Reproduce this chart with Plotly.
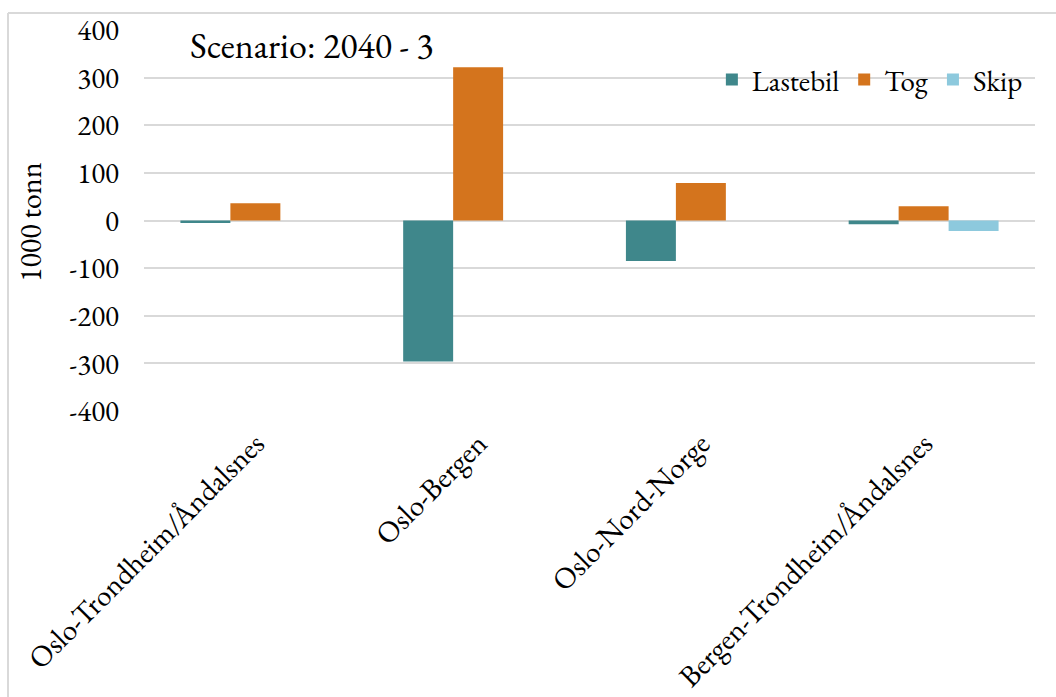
import plotly.graph_objects as go

categories = ["Oslo-Trondheim/Åndalsnes", "Oslo-Bergen", "Oslo-Nord-Norge", "Bergen-Trondheim/Åndalsnes"]
lastebil = [-5, -296, -85, -8]
tog = [36, 322, 79, 30]
skip = [0, 0, 0, -22]
y_ticks = [-400, -300, -200, -100, 0, 100, 200, 300, 400]

FONT = "Garamond, 'EB Garamond', 'Liberation Serif', 'Times New Roman', serif"

fig = go.Figure()
for name, vals, color in [("Lastebil", lastebil, "#3F878B"),
                          ("Tog", tog, "#D4741D"),
                          ("Skip", skip, "#8DC9DD")]:
    fig.add_trace(go.Bar(
        x=categories, y=vals, name=name,
        marker=dict(color=color, line=dict(width=0)),
    ))

fig.update_layout(
    width=1056, height=697,
    margin=dict(l=144, r=21, t=30, b=286),
    paper_bgcolor="white", plot_bgcolor="white",
    barmode="group", bargap=0.327, bargroupgap=0,
    font=dict(family=FONT, color="#000000", size=29),
    showlegend=True,
    legend=dict(orientation="h", x=0.992, xanchor="right", y=0.87, yanchor="middle",
                font=dict(size=29, family=FONT), bgcolor="rgba(0,0,0,0)",
                itemwidth=30, tracegroupgap=0),
    xaxis=dict(showgrid=False, showline=False, ticks="", tickangle=-45,
               automargin=False, ticklabelstandoff=8,
               tickfont=dict(size=30, family=FONT)),
    yaxis=dict(range=[-400, 400], tickvals=y_ticks, ticktext=[str(v) for v in y_ticks],
               showgrid=True, gridcolor="#D9D9D9", gridwidth=1.5,
               zeroline=True, zerolinecolor="#D9D9D9", zerolinewidth=1.5,
               showline=False, ticks="", ticklabelstandoff=24, automargin=False,
               tickfont=dict(size=29, family=FONT)),
    annotations=[
        dict(text="Scenario: 2040 - 3", x=(188 - 144) / 891, y=(411 - 45) / 381,
             xref="paper", yref="paper", xanchor="left", yanchor="middle",
             showarrow=False, font=dict(size=36, family=FONT)),
        dict(text="1000 tonn", x=(30 - 144) / 891, y=(411 - 222) / 381,
             xref="paper", yref="paper", xanchor="center", yanchor="middle",
             textangle=-90, showarrow=False, font=dict(size=30, family=FONT)),
    ],
    shapes=[
        dict(type="line", xref="paper", yref="paper",
             x0=(8 - 144) / 891, x1=(1056 - 144) / 891,
             y0=(411 - 13) / 381, y1=(411 - 13) / 381,
             line=dict(color="#D9D9D9", width=2)),
        dict(type="line", xref="paper", yref="paper",
             x0=(8 - 144) / 891, x1=(8 - 144) / 891,
             y0=(411 - 13) / 381, y1=(411 - 700) / 381,
             line=dict(color="#D9D9D9", width=2)),
    ],
)

fig.write_html("out.html")
